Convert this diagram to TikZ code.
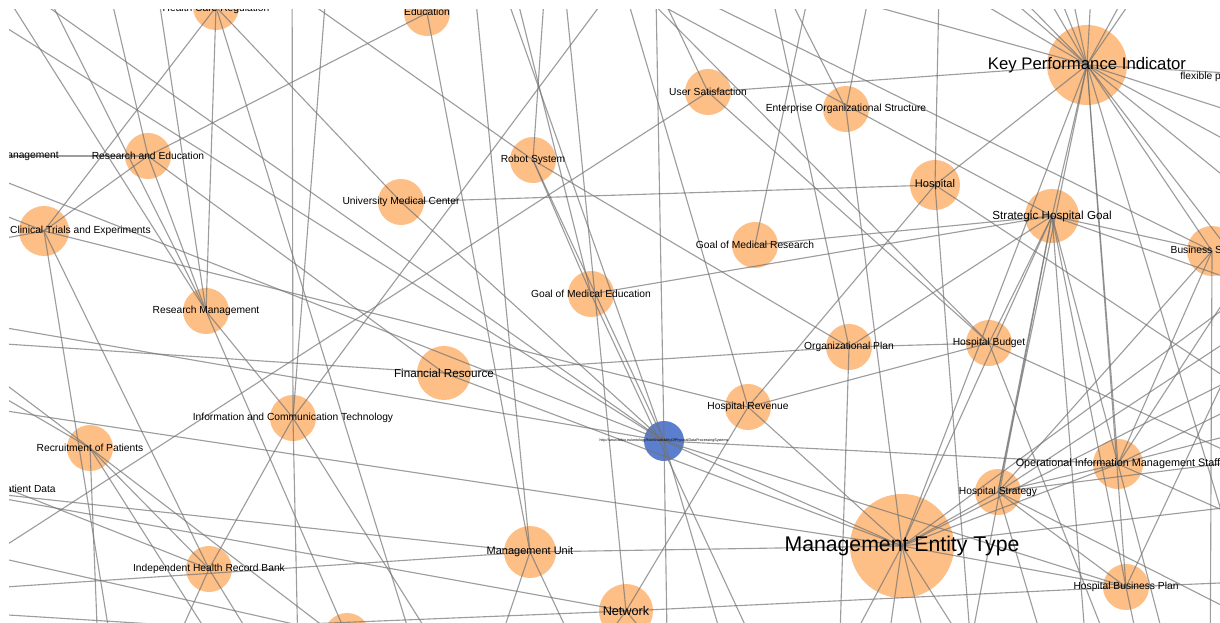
\documentclass[tikz,border=0pt]{standalone}
\usepackage{fontspec}
\setmainfont{Liberation Sans}
\definecolor{camnhat}{RGB}{253,191,134}
\definecolor{xanhnut}{RGB}{91,126,206}
\begin{document}
\begin{tikzpicture}[x=0.025cm,y=-0.025cm,
	concept/.style={circle,fill=camnhat,inner sep=0pt,minimum size=1.15cm},
	link/.style={draw=black!55,draw opacity=0.7,line width=0.8pt},
	lbl/.style={inner sep=0pt,text=black,font=\fontsize{7.3}{8.8}\selectfont},
	vua/.style={font=\fontsize{8.3}{10}\selectfont},
	lon/.style={font=\fontsize{11.9}{14}\selectfont},
	ratlon/.style={font=\fontsize{15.1}{18}\selectfont}]
	\useasboundingbox (0,0) rectangle (1220,623);
	\clip (9,10) rectangle (1220,623);
	% Các nút khái niệm
	\node[concept] (hcr) at (216,7) {};
	\node[concept] (edu) at (427,13) {};
	\node[concept] (dmg) at (-60,156) {};
	\node[concept] (re) at (148,156) {};
	\node[concept,minimum size=1.25cm] (ct) at (44,231) {};
	\node[concept] (umc) at (401,202) {};
	\node[concept] (rs) at (533,160) {};
	\node[concept] (us) at (708,92) {};
	\node[concept] (eos) at (846,109) {};
	\node[concept,minimum size=2cm] (kpi) at (1087,65) {};
	\node[concept] (flx) at (1300,77) {};
	\node[concept,minimum size=1.25cm] (hosp) at (935,185) {};
	\node[concept,minimum size=1.35cm] (shg) at (1052,216) {};
	\node[concept,minimum size=1.25cm] (bs) at (1212,251) {};
	\node[concept] (gmr) at (755,245) {};
	\node[concept] (gme) at (591,294) {};
	\node[concept] (rm) at (206,311) {};
	\node[concept,minimum size=1.35cm] (fr) at (444,373) {};
	\node[concept] (op) at (849,347) {};
	\node[concept] (hb) at (989,343) {};
	\node[concept] (hr) at (748,407) {};
	\node[concept,fill=xanhnut,minimum size=1cm] (dps) at (664,441) {};
	\node[concept] (ict) at (293,418) {};
	\node[concept] (rop) at (90,448) {};
	\node[concept] (ptd) at (-50,489) {};
	\node[concept,minimum size=1.25cm] (ois) at (1118,464) {};
	\node[concept] (hs) at (998,492) {};
	\node[concept,minimum size=2.6cm] (met) at (902,546) {};
	\node[concept] (hbp) at (1126,587) {};
	\node[concept,minimum size=1.3cm] (mu) at (530,552) {};
	\node[concept] (ihrb) at (209,569) {};
	\node[concept,minimum size=1.35cm] (net) at (626,611) {};
	\node[concept] (bot) at (347,636) {};
	% Các điểm nằm ngoài khung
	\foreach \n/\p in {t1/{30,-40},t2/{-10,-30},t3/{10,-20},t4/{100,-50},t5/{245,-60},
		t6/{235,-50},t7/{548,-60},t8/{292,-60},t9/{440,-60},t10/{655,-60},t11/{640,-50},
		t12/{580,-60},t13/{540,-60},t14/{760,-60},t15/{505,-50},t16/{490,-50},
		t17/{645,-55},t18/{600,-50},t19/{940,-60},t20/{880,-60},t21/{-30,5},
		t22/{470,-60},t24/{560,-60},t26/{610,-60},t27/{760,-60},t28/{820,-60},
		t29/{150,-60},t30/{330,-60},
		k1/{874,-60},k2/{942,-60},k3/{964,-60},k4/{1014,-60},k5/{1037,-60},
		k6/{1060,-60},k7/{1094,-60},k8/{1155,-60},k9/{1173,-60},k10/{670,-50},
		r1/{1290,130},r2/{1290,175},r3/{1290,230},r4/{1290,330},r5/{1260,640},
		r6/{1290,420},r7/{1290,380},r8/{1290,540},r9/{1290,580},r10/{1290,480},
		r11/{1290,300},r12/{1290,420},r13/{1290,260},r14/{1290,300},r15/{1290,350},
		r16/{1290,455},r17/{1290,500},r18/{1290,640},r19/{1290,200},r20/{1290,240},
		b1/{150,700},b2/{290,700},b3/{299,700},b4/{470,700},b5/{430,700},
		b6/{480,700},b7/{600,700},b8/{668,700},b9/{740,700},b10/{560,700},
		b11/{700,700},b12/{838,700},b13/{820,700},b14/{880,700},b15/{940,700},
		b16/{1000,700},b17/{975,700},b18/{1090,700},b19/{960,700},b20/{1150,700},
		b21/{1060,700},b22/{1180,700},b24/{420,700},b25/{250,700},b26/{120,700},
		b27/{100,700},b28/{1130,700},b29/{1210,700},b30/{780,700},
		l1/{-60,250},l2/{-60,190},l3/{-40,341},l4/{-40,404},l5/{-40,350},
		l6/{-40,372},l7/{-20,562},l8/{-40,549},l9/{-40,320},l10/{-40,638},
		l11/{-40,470},l12/{-40,590},l13/{-40,612}}
		\coordinate (\n) at (\p);
	% Các cạnh
	\foreach \a/\b in {re/dmg,re/edu,re/ct,re/rm,re/t4,
		hcr/ct,hcr/rm,hcr/umc,hcr/t5,hcr/b5,
		edu/mu,edu/t9,umc/hosp,umc/dps,
		rs/t6,rs/t7,rs/dps,rs/op,rs/gme,
		ict/t8,ict/b3,ict/rm,ict/ihrb,ict/t17,ict/b4,
		rm/t1,rm/t2,rm/bot,
		dps/t3,dps/t10,dps/t16,dps/b8,dps/b9,dps/ois,dps/met,dps/hbp,dps/dmg,dps/l9,
		us/kpi,us/t11,us/hb,us/l7,
		bs/t12,bs/shg,bs/hs,bs/kpi,
		shg/t13,shg/gme,shg/gmr,shg/kpi,shg/met,shg/hb,shg/ois,shg/hbp,shg/hs,
		shg/b18,shg/b19,shg/r11,shg/op,
		kpi/hosp,kpi/met,kpi/hs,kpi/ois,kpi/hbp,kpi/flx,
		kpi/k1,kpi/k2,kpi/k3,kpi/k4,kpi/k5,kpi/k6,kpi/k7,kpi/k8,kpi/k9,kpi/k10,
		kpi/r1,kpi/r2,kpi/r3,kpi/r4,kpi/r5,
		eos/met,eos/t14,eos/t20,
		hosp/t19,hosp/b17,hosp/hr,hosp/r12,
		hb/op,hb/hr,hb/t18,hb/r10,op/fr,op/b12,hr/met,hr/net,fr/l3,fr/met,
		ct/ihrb,ct/l1,ct/l2,rop/l5,rop/l6,rop/ihrb,rop/b24,ihrb/b1,ihrb/b2,
		met/mu,met/hs,met/ois,met/hbp,met/l4,met/b13,met/b14,met/b15,met/b16,
		mu/b6,mu/b7,mu/ptd,net/hbp,net/b10,net/b11,net/l10,
		ois/r6,ois/r7,ois/r8,ois/b22,ois/hs,hbp/r9,hbp/b20,hbp/hs,hs/b21,
		bot/l8,gme/t15,
		ct/hr,dps/t21,mu/t22,net/t24,hr/t26,op/t27,gmr/t28,
		met/r13,hs/r14,met/r15,hs/r16,met/r17,hs/r18,ois/r19,hbp/r20,
		bs/ois,hb/b28,bs/b29,gme/b30,
		rop/b25,ct/b26,ihrb/l11,mu/l12,bot/l13,ptd/net,rop/b27,
		rm/t29,ict/t30,fr/re}
		\draw[link] (\a.center) -- (\b.center);
	% Nhãn
	\node[lbl] (hcr-t) at (216,9) {Health Care Regulation};
	\node[lbl] (edu-t) at (427,12) {Education};
	\node[lbl,anchor=east] (dmg-t) at (59,156) {Data Management};
	\node[lbl] (re-t) at (re) {Research and Education};
	\node[lbl,anchor=east] (ct-t) at (151,231) {Clinical Trials and Experiments};
	\node[lbl] (umc-t) at (umc) {University Medical Center};
	\node[lbl] (rs-t) at (rs) {Robot System};
	\node[lbl] (us-t) at (us) {User Satisfaction};
	\node[lbl] (eos-t) at (eos) {Enterprise Organizational Structure};
	\node[lbl,lon] (kpi-t) at (kpi) {Key Performance Indicator};
	\node[lbl,anchor=west] (flx-t) at (1180,77) {flexible payment};
	\node[lbl,font=\fontsize{7.9}{9}\selectfont] (hosp-t) at (hosp) {Hospital};
	\node[lbl,vua] (shg-t) at (shg) {Strategic Hospital Goal};
	\node[lbl] (bs-t) at (bs) {Business Strategy};
	\node[lbl] (gmr-t) at (gmr) {Goal of Medical Research};
	\node[lbl] (gme-t) at (gme) {Goal of Medical Education};
	\node[lbl] (rm-t) at (rm) {Research Management};
	\node[lbl,vua] (fr-t) at (fr) {Financial Resource};
	\node[lbl] (op-t) at (op) {Organizational Plan};
	\node[lbl] (hb-t) at (hb) {Hospital Budget};
	\node[lbl] (hr-t) at (hr) {Hospital Revenue};
	\node[lbl,font=\fontsize{2.6}{3}\selectfont] (dps-t) at (dps) {http://www.ibibio.eu/ontology/hio\#AvailabilityOfPhysicalDataProcessingSystems};
	\node[lbl] (ict-t) at (ict) {Information and Communication Technology};
	\node[lbl] (rop-t) at (rop) {Recruitment of Patients};
	\node[lbl,anchor=east] (ptd-t) at (56,489) {Patient Data};
	\node[lbl,font=\fontsize{7.7}{9}\selectfont] (ois-t) at (ois) {Operational Information Management Staff};
	\node[lbl] (hs-t) at (hs) {Hospital Strategy};
	\node[lbl,ratlon] (met-t) at (met) {Management Entity Type};
	\node[lbl] (hbp-t) at (hbp) {Hospital Business Plan};
	\node[lbl,font=\fontsize{7.8}{9}\selectfont] (mu-t) at (mu) {Management Unit};
	\node[lbl] (ihrb-t) at (ihrb) {Independent Health Record Bank};
	\node[lbl,font=\fontsize{9}{11}\selectfont] (net-t) at (net) {Network};
\end{tikzpicture}
\end{document}
